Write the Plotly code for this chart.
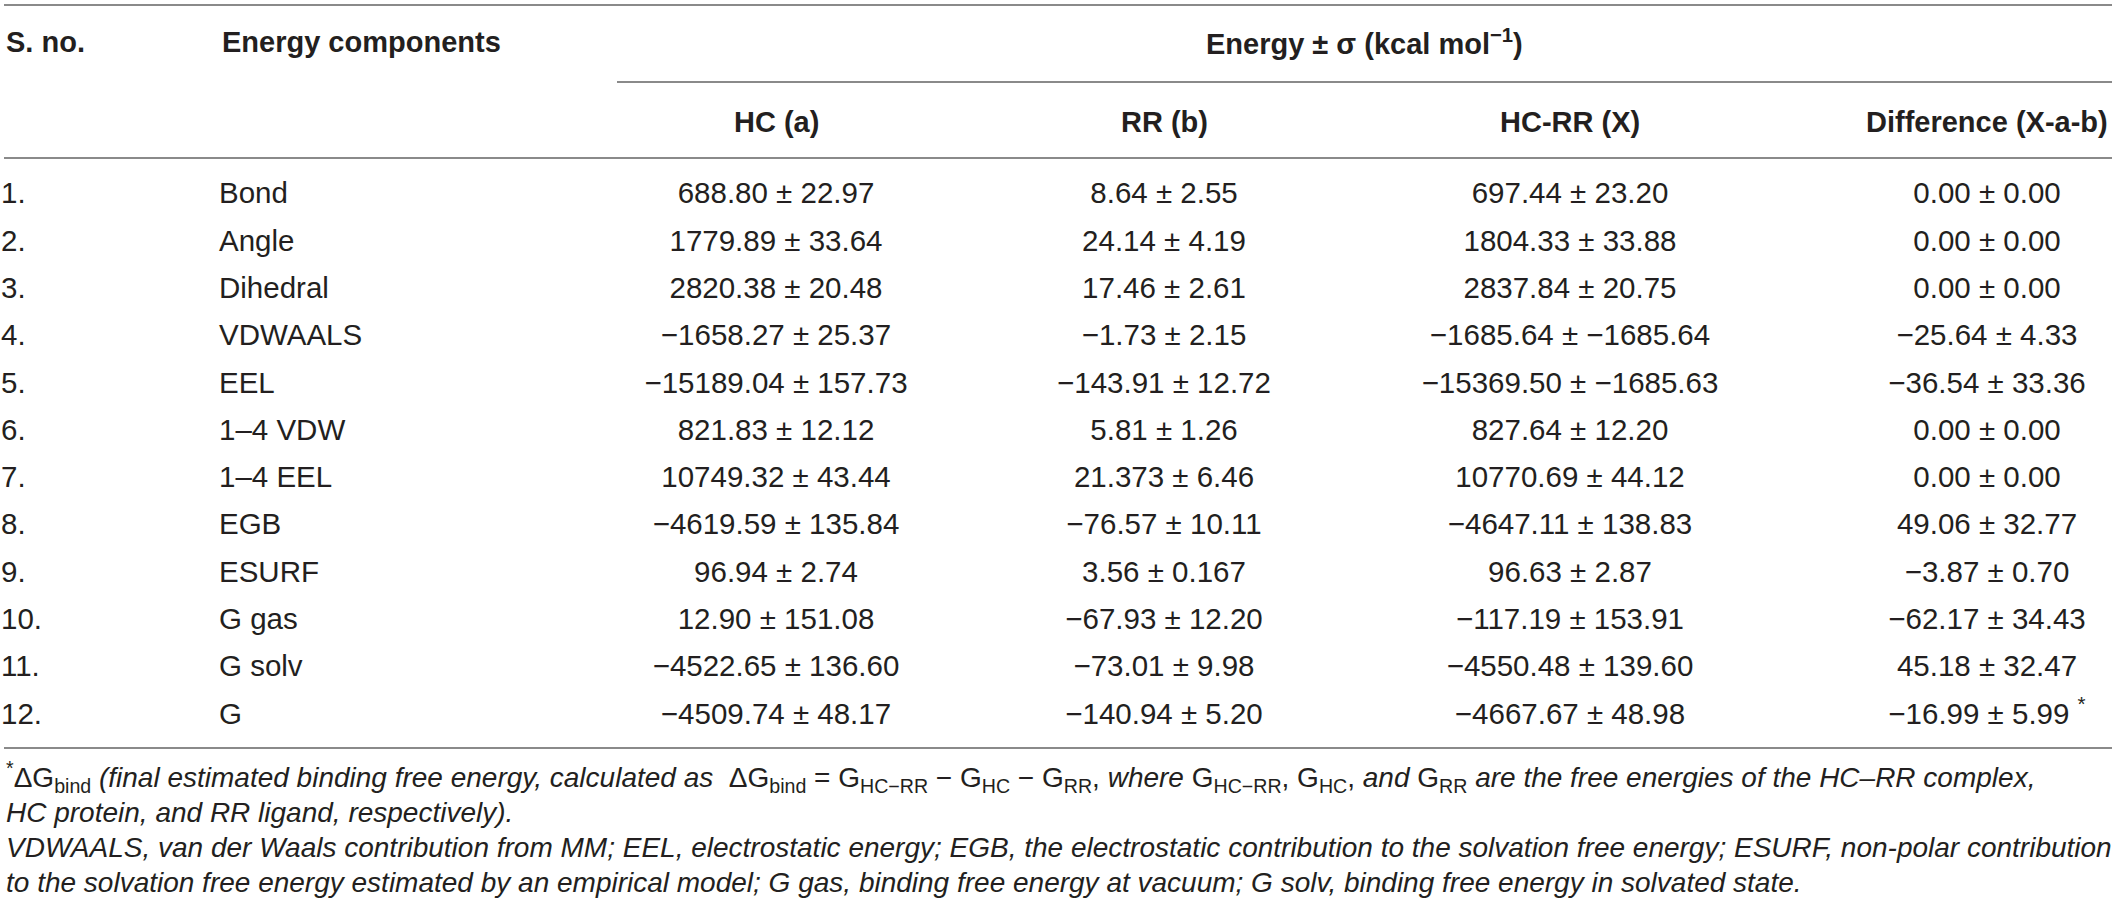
import plotly.graph_objects as go

# table contents
s_no = ["1.", "2.", "3.", "4.", "5.", "6.", "7.", "8.", "9.", "10.", "11.", "12."]
components = ["Bond", "Angle", "Dihedral", "VDWAALS", "EEL", "1–4 VDW", "1–4 EEL",
              "EGB", "ESURF", "G gas", "G solv", "G"]
hc = ["688.80 ± 22.97", "1779.89 ± 33.64", "2820.38 ± 20.48", "−1658.27 ± 25.37",
      "−15189.04 ± 157.73", "821.83 ± 12.12", "10749.32 ± 43.44", "−4619.59 ± 135.84",
      "96.94 ± 2.74", "12.90 ± 151.08", "−4522.65 ± 136.60", "−4509.74 ± 48.17"]
rr = ["8.64 ± 2.55", "24.14 ± 4.19", "17.46 ± 2.61", "−1.73 ± 2.15",
      "−143.91 ± 12.72", "5.81 ± 1.26", "21.373 ± 6.46", "−76.57 ± 10.11",
      "3.56 ± 0.167", "−67.93 ± 12.20", "−73.01 ± 9.98", "−140.94 ± 5.20"]
hc_rr = ["697.44 ± 23.20", "1804.33 ± 33.88", "2837.84 ± 20.75", "−1685.64 ± −1685.64",
         "−15369.50 ± −1685.63", "827.64 ± 12.20", "10770.69 ± 44.12", "−4647.11 ± 138.83",
         "96.63 ± 2.87", "−117.19 ± 153.91", "−4550.48 ± 139.60", "−4667.67 ± 48.98"]
diff = ["0.00 ± 0.00", "0.00 ± 0.00", "0.00 ± 0.00", "−25.64 ± 4.33",
        "−36.54 ± 33.36", "0.00 ± 0.00", "0.00 ± 0.00", "49.06 ± 32.77",
        "−3.87 ± 0.70", "−62.17 ± 34.43", "45.18 ± 32.47", "−16.99 ± 5.99 <sup>*</sup>"]

col_headers = ["HC (a)", "RR (b)", "HC-RR (X)", "Difference (X-a-b)"]
span_header = "Energy ± σ (kcal mol<sup>−1</sup>)"

footnotes = [
    "<sup>*</sup>ΔG<sub>bind</sub> <i>(final estimated binding free energy, calculated as</i>  "
    "ΔG<sub>bind</sub> = G<sub>HC−RR</sub> − G<sub>HC</sub> − G<sub>RR</sub>, <i>where</i> "
    "G<sub>HC−RR</sub>, G<sub>HC</sub>, <i>and</i> G<sub>RR</sub> "
    "<i>are the free energies of the HC–RR complex,</i>",
    "<i>HC protein, and RR ligand, respectively).</i>",
    "<i>VDWAALS, van der Waals contribution from MM; EEL, electrostatic energy; EGB, the "
    "electrostatic contribution to the solvation free energy; ESURF, non-polar contribution</i>",
    "<i>to the solvation free energy estimated by an empirical model; G gas, binding free "
    "energy at vacuum; G solv, binding free energy in solvated state.</i>",
]

# layout (pixels)
W, H = 2117, 911
LEFT, RIGHT = 4, 2112
ROW0, ROW_H = 196, 47.3
num_x = [776, 1164, 1570, 1987]
FONT = "Liberation Sans, Arial, Helvetica, sans-serif"
INK = "#231f20"
RULE = "#8a8a8a"
BODY = 29.5

rows_y = [ROW0 + i * ROW_H for i in range(len(components))]

fig = go.Figure()

fig.add_trace(go.Scatter(x=[1] * len(s_no), y=rows_y, text=s_no, mode="text",
                         textposition="middle right", hoverinfo="skip",
                         textfont=dict(family=FONT, size=BODY, color=INK)))
fig.add_trace(go.Scatter(x=[219] * len(components), y=rows_y, text=components, mode="text",
                         textposition="middle right", hoverinfo="skip",
                         textfont=dict(family=FONT, size=BODY, color=INK)))
for cx, col in zip(num_x, [hc, rr, hc_rr, diff]):
    fig.add_trace(go.Scatter(x=[cx] * len(col), y=rows_y, text=col, mode="text",
                             textposition="middle center", hoverinfo="skip",
                             textfont=dict(family=FONT, size=BODY, color=INK)))

hfont = dict(family=FONT, size=29, color=INK)
annos = [
    dict(x=LEFT, y=42, text="<b>S. no.</b>", xanchor="left"),
    dict(x=220, y=42, text="<b>Energy components</b>", xanchor="left"),
    dict(x=(617 + RIGHT) / 2, y=42, text="<b>" + span_header + "</b>", xanchor="center"),
]
for cx, t in zip(num_x, col_headers):
    annos.append(dict(x=cx, y=122, text="<b>" + t + "</b>", xanchor="center"))
for a in annos:
    a.update(xref="x", yref="y", yanchor="middle", showarrow=False, font=hfont)
    fig.add_annotation(**a)

for i, t in enumerate(footnotes):
    fig.add_annotation(x=LEFT, y=777 + i * 35, text=t, xref="x", yref="y",
                       xanchor="left", yanchor="middle", showarrow=False,
                       font=dict(family=FONT, size=28, color=INK))

# horizontal rules
for y0, x0 in [(5, LEFT), (82, 617), (158, LEFT), (748, LEFT)]:
    fig.add_shape(type="line", xref="x", yref="y", x0=x0, x1=RIGHT, y0=y0, y1=y0,
                  line=dict(color=RULE, width=2))

fig.update_xaxes(range=[0, W], visible=False, fixedrange=True)
fig.update_yaxes(range=[H, 0], visible=False, fixedrange=True)
fig.update_layout(width=W, height=H, margin=dict(l=0, r=0, t=0, b=0),
                  paper_bgcolor="white", plot_bgcolor="white", showlegend=False)

# page body has a default 8px margin; drop it so the figure sits at the window corner
fig.write_html("out.html", config={"displayModeBar": False},
               post_script="document.body.style.margin='0';")
